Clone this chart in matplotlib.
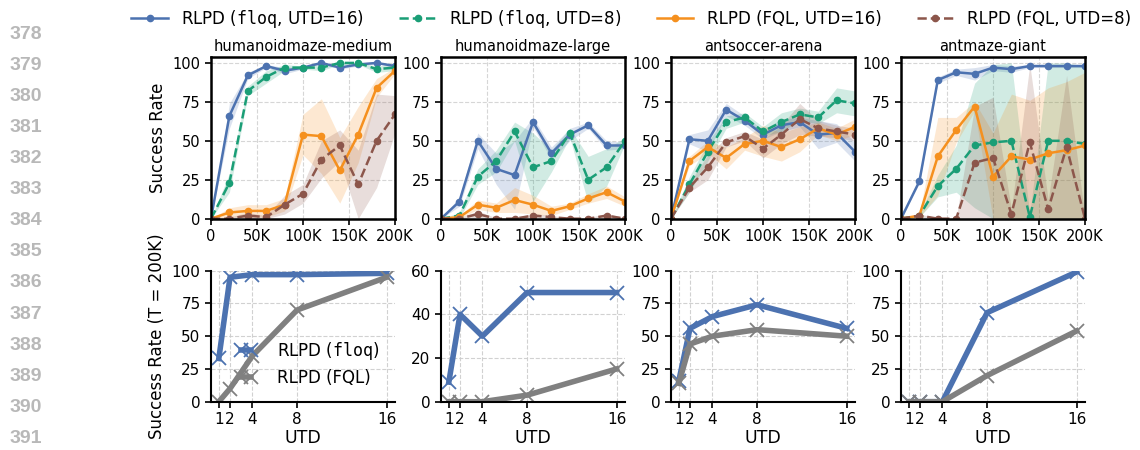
import numpy as np
import matplotlib.pyplot as plt
from matplotlib.ticker import FuncFormatter
from matplotlib.lines import Line2D
from matplotlib.legend_handler import HandlerLine2D

plt.rcParams['font.family'] = ['DejaVu Sans']
plt.rcParams['mathtext.fontset'] = 'dejavusans'

envs = ["humanoidmaze-medium", "humanoidmaze-large", "antsoccer-arena", "antmaze-giant"]
steps = [0, 20000, 40000, 60000, 80000, 100000, 120000, 140000, 160000, 180000, 200000]

# mean / std per env (rows follow envs)
floq16_mean = [
    [0, 66, 92, 98, 95, 97, 100, 97, 99, 100, 98],
    [0, 11, 50, 32, 28, 62, 42, 54, 60, 47, 47],
    [0, 51, 50, 70, 63, 54, 60, 62, 54, 55, 43],
    [0, 24, 89, 94, 93, 97, 96, 98, 98, 98, 98],
]
floq16_std = [
    [0, 8, 2, 1, 2, 1, 0.5, 1, 1, 0.5, 1],
    [0, 3, 5, 10, 22, 3, 4, 4, 2, 3, 2],
    [0, 3, 7, 4, 3, 3, 4, 3, 9, 6, 6],
    [0, 1, 2, 2, 4, 2, 2, 1, 1, 1, 1],
]
floq8_mean = [
    [0, 23, 82, 91, 97, 97, 97, 100, 100, 96, 97],
    [0, 2, 27, 37, 56, 33, 37, 55, 25, 33, 50],
    [0, 22, 43, 62, 65, 56, 62, 67, 65, 76, 74],
    [0, 2, 21, 32, 47, 49, 50, 1, 50, 50, 48],
]
floq8_std = [
    [0, 6, 3, 4, 2, 1, 2, 1, 1, 2, 2],
    [0, 2, 5, 7, 6, 22, 7, 3, 15, 12, 2],
    [0, 5, 6, 4, 3, 3, 6, 4, 4, 8, 8],
    [0, 1, 7, 15, 40, 50, 50, 2, 50, 50, 50],
]
fql16_mean = [
    [0, 4, 5, 5, 9, 54, 53, 31, 54, 84, 95],
    [0, 1, 9, 7, 12, 9, 5, 8, 13, 17, 11],
    [0, 37, 46, 39, 48, 50, 46, 51, 58, 54, 59],
    [0, 2, 40, 57, 72, 27, 40, 38, 42, 44, 47],
]
fql16_std = [
    [0, 3, 4, 4, 4, 13, 24, 21, 18, 6, 2],
    [0, 1, 3, 3, 8, 6, 3, 2, 3, 4, 3],
    [0, 3, 4, 7, 4, 10, 9, 8, 4, 4, 5],
    [0, 1, 25, 8, 3, 28, 40, 38, 42, 44, 47],
]
fql8_mean = [
    [0, 0, 2, 1, 9, 16, 38, 47, 22, 50, 67],
    [0, 0, 3, 0, 0, 2, 1, 0, 0, 2, 0],
    [0, 20, 33, 49, 53, 45, 54, 64, 58, 56, 54],
    [0, 2, 0, 0, 36, 39, 3, 49, 6, 46, 0],
]
fql8_std = [
    [0, 1, 2, 1, 6, 6, 12, 10, 22, 30, 12],
    [0, 0.5, 2, 0.5, 0.5, 1.5, 1, 0.5, 0.5, 1.5, 0.5],
    [0, 3, 8, 3, 3, 6, 6, 10, 5, 4, 4],
    [0, 1, 0.5, 0.5, 36, 39, 3, 50, 6, 46, 1],
]

# final success rate vs UTD
utd = [1, 2, 4, 8, 16]
floq_final = [
    [33, 95, 97, 97, 98],
    [9, 40, 30, 50, 50],
    [16, 56, 65, 74, 56],
    [0, 0, 0, 68, 99],
]
fql_final = [
    [0, 10, 35, 70, 95],
    [0, 0, 0, 3, 15],
    [14, 44, 50, 55, 50],
    [0, 0, 0, 20, 54],
]
bottom_ymax = [100, 60, 100, 100]

BLUE = '#4c72b0'
GREEN = '#1a9e76'
ORANGE = '#f5901e'
BROWN = '#8c564b'
GRAY = '#808080'

curves = [
    (floq16_mean, floq16_std, BLUE, '-', r'RLPD ($\mathtt{floq}$, UTD=16)'),
    (floq8_mean, floq8_std, GREEN, '--', r'RLPD ($\mathtt{floq}$, UTD=8)'),
    (fql16_mean, fql16_std, ORANGE, '-', 'RLPD (FQL, UTD=16)'),
    (fql8_mean, fql8_std, BROWN, '--', 'RLPD (FQL, UTD=8)'),
]

W, H = 1140, 450
fig = plt.figure(figsize=(W / 100, H / 100), dpi=100)

lefts = [211, 441, 671, 901]
ax_w = 184


def kfmt(v, pos):
    return '0' if v == 0 else f'{int(v / 1000)}K'


x = np.array(steps)
handles = []
for i, env in enumerate(envs):
    ax = fig.add_axes([lefts[i] / W, 1 - 218.7 / H, ax_w / W, 162 / H])
    for mean, std, col, ls, lab in curves:
        m = np.array(mean[i], dtype=float)
        s = np.array(std[i], dtype=float)
        ax.fill_between(x, np.clip(m - s, 0, 100), np.clip(m + s, 0, 100),
                        color=col, alpha=0.2, linewidth=0)
        h, = ax.plot(x, m, color=col, ls=ls, lw=1.8, marker='o', ms=4.5, label=lab)
        if i == 0:
            handles.append(h)
    ax.set_xlim(0, 200000)
    ax.set_ylim(0, 104)
    ax.set_xticks([0, 50000, 100000, 150000, 200000])
    ax.xaxis.set_major_formatter(FuncFormatter(kfmt))
    ax.set_yticks([0, 25, 50, 75, 100])
    ax.grid(True, ls='--', color='#cccccc', lw=0.8, alpha=0.8)
    ax.set_axisbelow(True)
    ax.tick_params(labelsize=10.5, width=1.2, length=4)
    for sp in ax.spines.values():
        sp.set_linewidth(1.8)
    ax.set_title(env, fontsize=10.5, pad=4)
    if i == 0:
        ax.set_ylabel('Success Rate', fontsize=12)

    bx = fig.add_axes([lefts[i] / W, 1 - 401.7 / H, ax_w / W, 131 / H])
    bx.plot(utd, floq_final[i], color=BLUE, lw=4, marker='x', ms=10, mew=1.3,
            label=r'RLPD ($\mathtt{floq}$)')
    bx.plot(utd, fql_final[i], color=GRAY, lw=4, marker='x', ms=10, mew=1.3,
            label='RLPD (FQL)')
    bx.set_xlim(0.3, 16.75)
    bx.set_ylim(0, bottom_ymax[i])
    bx.set_xticks(utd)
    if bottom_ymax[i] == 60:
        bx.set_yticks([0, 20, 40, 60])
    else:
        bx.set_yticks([0, 25, 50, 75, 100])
    bx.grid(True, ls='--', color='#cccccc', lw=0.8, alpha=0.9)
    bx.set_axisbelow(True)
    bx.spines['top'].set_visible(False)
    bx.spines['right'].set_visible(False)
    bx.spines['left'].set_linewidth(1.5)
    bx.spines['bottom'].set_linewidth(1.5)
    bx.tick_params(labelsize=11, width=1.2, length=4)
    bx.set_xlabel('UTD', fontsize=12.5, labelpad=1)
    if i == 0:
        bx.set_ylabel('Success Rate (T = 200K)', fontsize=12)
        bx.legend(loc='lower right', frameon=False, fontsize=12,
                  handlelength=2.4, handletextpad=0.7, labelspacing=0.4,
                  handler_map={Line2D: HandlerLine2D(marker_pad=0.9, numpoints=2)})

fig.legend(handles, [h.get_label() for h in handles], loc='upper center',
           bbox_to_anchor=(0.5535, 1.015), ncol=4, frameon=False, fontsize=12,
           handlelength=2.2, columnspacing=2.1, handletextpad=0.8)

# line numbers in the page margin
for k, num in enumerate(range(378, 392)):
    y = 34.5 + k * 31.06
    fig.text(42 / W, 1 - y / H, str(num), ha='right', va='center',
             fontsize=14, color='#b8b8b8', weight='bold', family='Liberation Sans')

fig.savefig('out.png', dpi=100)
